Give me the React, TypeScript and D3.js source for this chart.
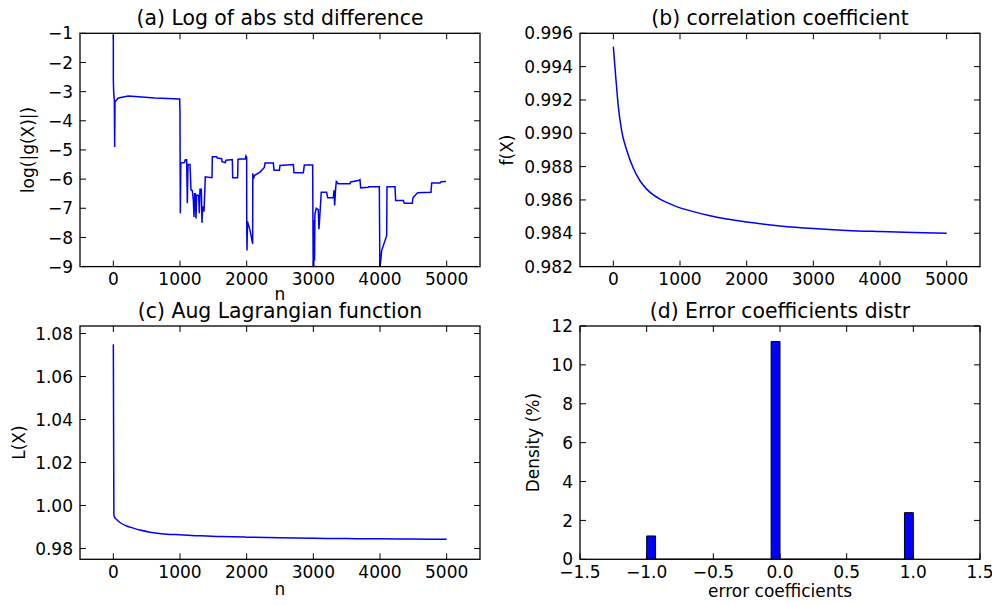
import React from "react";
import * as d3 from "d3";

// ---------- data ----------
// (a) log(|g(X)|) vs n : [n, value]
const stdDiffPoints: [number, number][] = [
  [0, -1.05], [0, -2.6], [5, -3.0], [15, -3.3], [20, -4.9], [25, -3.35], [75, -3.22], [225, -3.15],
  [625, -3.22], [995, -3.25], [1000, -3.75], [1000, -4.2], [1005, -7.17], [1012, -5.45], [1065, -5.43],
  [1080, -5.34], [1100, -5.34], [1110, -6.83], [1120, -5.5], [1150, -5.5], [1165, -6.37], [1185, -6.4],
  [1200, -6.71], [1210, -7.3], [1220, -6.5], [1230, -6.5], [1240, -7.35], [1250, -6.55], [1280, -6.55],
  [1290, -7.17], [1300, -6.35], [1320, -6.35], [1330, -7.5], [1340, -6.94], [1360, -7.11], [1380, -5.92],
  [1480, -5.95], [1485, -5.23], [1550, -5.23], [1560, -5.28], [1625, -5.3], [1630, -5.4], [1680, -5.43],
  [1690, -5.35], [1785, -5.33], [1790, -5.95], [1865, -5.95], [1870, -5.32], [1980, -5.3], [1990, -5.21],
  [2000, -5.25], [2001, -7.6], [2005, -8.45], [2012, -7.45], [2050, -7.75], [2090, -8.22], [2092, -5.8],
  [2100, -6.0], [2120, -5.87], [2200, -5.76], [2265, -5.6], [2275, -5.45], [2400, -5.45], [2410, -5.7],
  [2490, -5.7], [2500, -5.53], [2700, -5.5], [2710, -5.78], [2850, -5.78], [2865, -5.52], [2990, -5.52],
  [2998, -9.1], [3002, -7.42], [3006, -9.1], [3010, -7.4], [3018, -8.8], [3024, -7.2], [3044, -7.0],
  [3074, -7.05], [3084, -7.72], [3099, -7.2], [3119, -6.45], [3200, -6.45], [3215, -6.64], [3300, -6.64],
  [3310, -6.38], [3320, -6.9], [3335, -6.3], [3345, -6.08], [3375, -6.16], [3550, -6.16], [3560, -6.1],
  [3675, -6.05], [3700, -6.02], [3710, -6.3], [3825, -6.28], [3830, -6.26], [3990, -6.26], [3998, -9.1],
  [4025, -8.45], [4100, -7.94], [4105, -6.26], [4225, -6.26], [4235, -6.73], [4350, -6.73], [4365, -6.83],
  [4485, -6.83], [4495, -6.64], [4525, -6.56], [4565, -6.47], [4765, -6.45], [4775, -6.13], [4900, -6.13],
  [4915, -6.09], [4990, -6.08],
];

// (b) correlation coefficient f(X)
const corrN = [0, 40, 75, 125, 200, 300, 400, 500, 600, 700, 800, 950, 1200, 1450, 1700, 2000, 2500, 3000, 3500, 4000, 4500, 5000];
const corrF = [0.9952, 0.9932, 0.9916, 0.99015, 0.9890, 0.9879, 0.98715, 0.98665, 0.98630, 0.98605, 0.98585, 0.9856, 0.9853, 0.98505, 0.98485, 0.98467, 0.98444, 0.98428, 0.98417, 0.9841, 0.98404, 0.9840];

// (c) augmented Lagrangian L(X)
const lagN = [0, 8, 20, 50, 100, 200, 300, 400, 550, 800, 1000, 1300, 1600, 2000, 2500, 3000, 3500, 4000, 4500, 5000];
const lagL = [1.075, 0.9955, 0.9945, 0.9935, 0.9921, 0.9905, 0.9895, 0.9886, 0.9876, 0.9867, 0.9864, 0.9859, 0.9856, 0.9853, 0.9850, 0.9848, 0.98465, 0.9845, 0.9844, 0.9843];

// (d) histogram: 30 bins between -1 and 1, density (%)
const histLo = -1;
const histHi = 1;
const histDensity = [
  1.2, 0, 0, 0, 0, 0, 0, 0, 0, 0,
  0, 0, 0, 0, 11.2, 0, 0, 0, 0, 0,
  0, 0, 0, 0, 0, 0, 0, 0, 0, 2.4,
];

// tick labels
const nTicks = [0, 1000, 2000, 3000, 4000, 5000];
const aYTicks = [-9, -8, -7, -6, -5, -4, -3, -2, -1];
const bYTicks = [0.982, 0.984, 0.986, 0.988, 0.99, 0.992, 0.994, 0.996];
const cYTicks = [0.98, 1.0, 1.02, 1.04, 1.06, 1.08];
const dXTicks = [-1.5, -1.0, -0.5, 0.0, 0.5, 1.0, 1.5];
const dYTicks = [0, 2, 4, 6, 8, 10, 12];

const titles = [
  "(a) Log of abs std difference",
  "(b) correlation coefficient",
  "(c) Aug Lagrangian function",
  "(d) Error coefficients distr",
];

// ---------- layout ----------
const W = 992;
const H = 605;
const PW = 400;
const PH = 233.3;
const FONT = "'DejaVu Sans', sans-serif";
const TICK_FS = 17;
const TITLE_FS = 20.4;
const TICK_LEN = 6;
const BLUE = "#0000ff";

const fmtMinus = (s: string) => s.replace(/-/g, "\u2212");

type PanelProps = {
  id: string;
  left: number;
  top: number;
  x: d3.ScaleLinear<number, number>;
  y: d3.ScaleLinear<number, number>;
  xTicks: number[];
  yTicks: number[];
  xFmt: (v: number) => string;
  yFmt: (v: number) => string;
  title: string;
  xLabel: string;
  xLabelDy: number;
  yLabel: string;
  yLabelX: number;
  children?: React.ReactNode;
};

function Panel(p: PanelProps) {
  const [x0, x1] = p.x.range();
  const [y0, y1] = p.y.range(); // y0 bottom, y1 top
  return (
    <g transform={`translate(${p.left},${p.top})`}>
      <defs>
        <clipPath id={`clip-${p.id}`}>
          <rect x={x0} y={y1} width={x1 - x0} height={y0 - y1} />
        </clipPath>
      </defs>
      <g clipPath={`url(#clip-${p.id})`}>{p.children}</g>
      {/* frame */}
      <rect x={x0} y={y1} width={x1 - x0} height={y0 - y1} fill="none" stroke="#000" strokeWidth={1.3} />
      {/* x ticks */}
      {p.xTicks.map((t) => {
        const xx = p.x(t);
        return (
          <g key={`xt${t}`}>
            <line x1={xx} x2={xx} y1={y0} y2={y0 - TICK_LEN} stroke="#000" strokeWidth={1} />
            <line x1={xx} x2={xx} y1={y1} y2={y1 + TICK_LEN} stroke="#000" strokeWidth={1} />
            <text x={xx} y={y0 + 18.6} textAnchor="middle" fontSize={TICK_FS} fontFamily={FONT} fill="#000">
              {fmtMinus(p.xFmt(t))}
            </text>
          </g>
        );
      })}
      {/* y ticks */}
      {p.yTicks.map((t) => {
        const yy = p.y(t);
        return (
          <g key={`yt${t}`}>
            <line x1={x0} x2={x0 + TICK_LEN} y1={yy} y2={yy} stroke="#000" strokeWidth={1} />
            <line x1={x1} x2={x1 - TICK_LEN} y1={yy} y2={yy} stroke="#000" strokeWidth={1} />
            <text x={x0 - 7} y={yy} dy="0.36em" textAnchor="end" fontSize={TICK_FS} fontFamily={FONT} fill="#000">
              {fmtMinus(p.yFmt(t))}
            </text>
          </g>
        );
      })}
      {/* title */}
      <text x={(x0 + x1) / 2} y={y1 - 8.3} textAnchor="middle" fontSize={TITLE_FS} fontFamily={FONT} fill="#000">
        {p.title}
      </text>
      {/* x label */}
      {p.xLabel ? (
        <text x={(x0 + x1) / 2} y={y0 + p.xLabelDy} textAnchor="middle" fontSize={TICK_FS} fontFamily={FONT} fill="#000">
          {p.xLabel}
        </text>
      ) : null}
      {/* y label */}
      <text
        transform={`translate(${p.yLabelX},${(y0 + y1) / 2}) rotate(-90)`}
        textAnchor="middle"
        fontSize={TICK_FS}
        fontFamily={FONT}
        fill="#000"
      >
        {p.yLabel}
      </text>
    </g>
  );
}

export default function App() {
  const nScale = () => d3.scaleLinear().domain([-500, 5500]).range([0, PW]);

  // (a)
  const xa = nScale();
  const ya = d3.scaleLinear().domain([-9, -1]).range([PH, 0]);
  const lineA = d3
    .line<[number, number]>()
    .x((d) => xa(d[0]))
    .y((d) => ya(d[1]));

  // (b)
  const xb = nScale();
  const yb = d3.scaleLinear().domain([0.982, 0.996]).range([PH, 0]);
  const lineB = d3
    .line<number>()
    .x((_, i) => xb(corrN[i]))
    .y((d) => yb(d))
    .curve(d3.curveMonotoneX);

  // (c)
  const xc = nScale();
  const yc = d3.scaleLinear().domain([0.975, 1.0835]).range([PH, 0]);
  const lineC = d3
    .line<number>()
    .x((_, i) => xc(lagN[i]))
    .y((d) => yc(d))
    .curve(d3.curveMonotoneX);

  // (d)
  const xd = d3.scaleLinear().domain([-1.5, 1.5]).range([0, PW]);
  const yd = d3.scaleLinear().domain([0, 12]).range([PH, 0]);
  const binW = (histHi - histLo) / histDensity.length;

  const intFmt = d3.format("d");
  const colLeft = [0, 500];
  const rowTop = [33.3, 326];

  return (
    <svg
      width={W}
      height={H}
      viewBox={`0 0 ${W} ${H}`}
      style={{ position: "absolute", left: 0, top: 0, background: "#fff" }}
    >
      <rect x={0} y={0} width={W} height={H} fill="#fff" />
      <Panel
        id="a"
        left={colLeft[0] + 80}
        top={rowTop[0]}
        x={xa}
        y={ya}
        xTicks={nTicks}
        yTicks={aYTicks}
        xFmt={intFmt}
        yFmt={intFmt}
        title={titles[0]}
        xLabel="n"
        xLabelDy={33.5}
        yLabel="log(|g(X)|)"
        yLabelX={34 - 80}
      >
        <path d={lineA(stdDiffPoints) || ""} fill="none" stroke={BLUE} strokeWidth={1.5} />
      </Panel>
      <Panel
        id="b"
        left={colLeft[1] + 80}
        top={rowTop[0]}
        x={xb}
        y={yb}
        xTicks={nTicks}
        yTicks={bYTicks}
        xFmt={intFmt}
        yFmt={d3.format(".3f")}
        title={titles[1]}
        xLabel=""
        xLabelDy={34}
        yLabel="f(X)"
        yLabelX={513 - 580}
      >
        <path d={lineB(corrF) || ""} fill="none" stroke={BLUE} strokeWidth={1.5} />
      </Panel>
      <Panel
        id="c"
        left={colLeft[0] + 80}
        top={rowTop[1]}
        x={xc}
        y={yc}
        xTicks={nTicks}
        yTicks={cYTicks}
        xFmt={intFmt}
        yFmt={d3.format(".2f")}
        title={titles[2]}
        xLabel="n"
        xLabelDy={35.5}
        yLabel="L(X)"
        yLabelX={25 - 80}
      >
        <path d={lineC(lagL) || ""} fill="none" stroke={BLUE} strokeWidth={1.5} />
      </Panel>
      <Panel
        id="d"
        left={colLeft[1] + 80}
        top={rowTop[1]}
        x={xd}
        y={yd}
        xTicks={dXTicks}
        yTicks={dYTicks}
        xFmt={d3.format(".1f")}
        yFmt={intFmt}
        title={titles[3]}
        xLabel="error coefficients"
        xLabelDy={37.5}
        yLabel="Density (%)"
        yLabelX={539 - 580}
      >
        {histDensity.map((v, i) => {
          const a = xd(histLo + i * binW);
          const b = xd(histLo + (i + 1) * binW);
          const top = yd(v);
          const base = yd(0);
          return (
            <path
              key={`bar${i}`}
              d={`M${a},${base}L${a},${top}L${b},${top}L${b},${base}Z`}
              fill={BLUE}
              stroke="#000"
              strokeWidth={1}
            />
          );
        })}
      </Panel>
    </svg>
  );
}
